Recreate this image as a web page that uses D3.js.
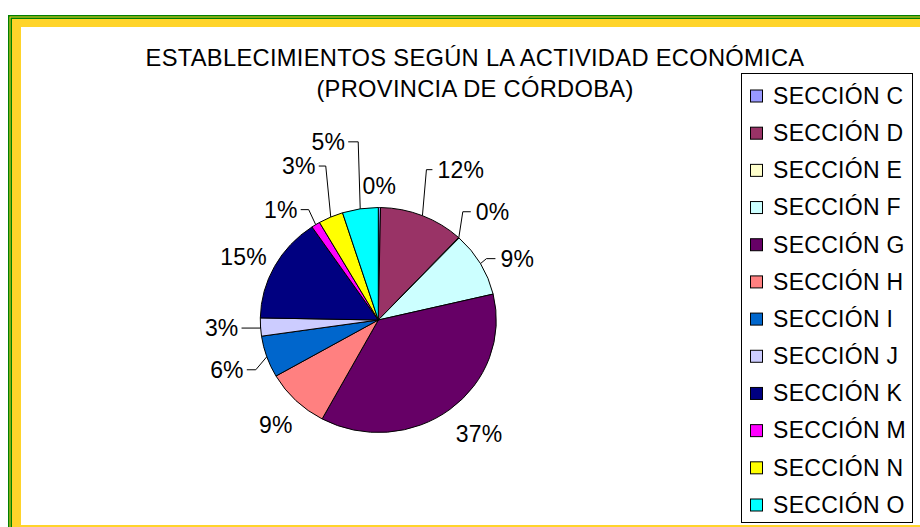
<!DOCTYPE html>
<html>
<head>
<meta charset="utf-8">
<script src="https://cdn.jsdelivr.net/npm/d3@7"></script>
<style>
    html, body { margin: 0; padding: 0; background: #fff; }
    svg { display: block; font-family: "Liberation Sans", Arial, sans-serif; }
</style>
</head>
<body>
<div class="chart"></div>
<script>
// ===============================
// Data
// ===============================

const categories = ["SECCIÓN C", "SECCIÓN D", "SECCIÓN E", "SECCIÓN F", "SECCIÓN G", "SECCIÓN H",
    "SECCIÓN I", "SECCIÓN J", "SECCIÓN K", "SECCIÓN M", "SECCIÓN N", "SECCIÓN O"];
const shares = [0.3, 11.6, 0.1, 9.3, 36.6, 8.8, 6.0, 2.6, 15.2, 1.2, 3.4, 4.9];
const colors = ["#9999FF", "#993366", "#FFFFCC", "#CCFFFF", "#660066", "#FF8080",
    "#0066CC", "#CCCCFF", "#000080", "#FF00FF", "#FFFF00", "#00FFFF"];
const titleLines = ["ESTABLECIMIENTOS SEGÚN LA ACTIVIDAD ECONÓMICA", "(PROVINCIA DE CÓRDOBA)"];

// label layout: offset from slice edge (no leader) or elbow + horizontal run (leader)
const labelLayout = [
    { off: [0, -22] },
    { elbow: [4, -46], run: 6 },
    { elbow: [4, -26], run: 8 },
    { elbow: [6, -5], run: 9 },
    { off: [29, 24] },
    { off: [-20, 24] },
    { elbow: [-11, 13], run: -9 },
    { elbow: [0, 1], run: -19 },
    { off: [-31, -10] },
    { elbow: [-7, -15], run: -8 },
    { elbow: [-5, -51], run: -7 },
    { elbow: [-2, -67], run: -10 }
];

const width = 920;
const height = 527;

const svg = d3.select(".chart")
    .append("svg")
    .attr("width", width)
    .attr("height", height);

// =========================
// Frame (green / yellow border)
// =========================

const frame = [
    { x: 8, y: 15, fill: "#008000" },
    { x: 9.5, y: 16.5, fill: "#FFD42A" },
    { x: 10.5, y: 17.5, fill: "#008000" },
    { x: 12, y: 19, fill: "#FFD42A" }
];
frame.forEach(f => {
    svg.append("rect")
        .attr("x", f.x).attr("y", f.y)
        .attr("width", 1000).attr("height", 600)
        .attr("fill", f.fill);
});
svg.append("rect")
    .attr("x", 21).attr("y", 27)
    .attr("width", 1000).attr("height", 525 - 27)
    .attr("fill", "#fff");

// =========================
// Title
// =========================

svg.selectAll(".title")
    .data(titleLines)
    .join("text")
    .attr("class", "title")
    .attr("x", 475)
    .attr("y", (d, i) => 65.5 + i * 31)
    .attr("text-anchor", "middle")
    .style("font-size", "23.7px")
    .style("letter-spacing", "0.3px")
    .attr("fill", "#000")
    .text(d => d);

// =========================
// Pie
// =========================

const cx = 378.3, cy = 320, rx = 118, ry = 112.5;

const pie = d3.pie().sort(null).value(d => d);
const arcs = pie(shares);
const arc = d3.arc().innerRadius(0).outerRadius(rx);

const pieG = svg.append("g")
    .attr("transform", `translate(${cx},${cy}) scale(1,${ry / rx})`);

pieG.selectAll("path")
    .data(arcs)
    .join("path")
    .attr("d", arc)
    .attr("fill", (d, i) => colors[i])
    .attr("stroke", "#000")
    .attr("stroke-width", 1)
    .attr("vector-effect", "non-scaling-stroke");

// =========================
// Labels and leader lines
// =========================

const total = d3.sum(shares);
const edge = a => [cx + rx * Math.sin(a), cy - ry * Math.cos(a)];

arcs.forEach((d, i) => {
    const mid = (d.startAngle + d.endAngle) / 2;
    const [ex, ey] = edge(mid);
    const lay = labelLayout[i];
    const txt = Math.round(d.value / total * 100) + "%";
    let lx, ly, anchor;

    if (lay.elbow) {
        const bx = ex + lay.elbow[0], by = ey + lay.elbow[1];
        const endX = bx + lay.run;
        svg.append("polyline")
            .attr("points", [[ex, ey], [bx, by], [endX, by]].map(p => p.join(",")).join(" "))
            .attr("fill", "none")
            .attr("stroke", "#000")
            .attr("stroke-width", 1);
        anchor = lay.run > 0 ? "start" : "end";
        lx = endX + (lay.run > 0 ? 5 : -3);
        ly = by;
    } else {
        anchor = "middle";
        lx = ex + lay.off[0];
        ly = ey + lay.off[1];
    }

    svg.append("text")
        .attr("x", lx)
        .attr("y", ly)
        .attr("dy", "0.36em")
        .attr("text-anchor", anchor)
        .style("font-size", "23px")
        .style("letter-spacing", "0.2px")
        .attr("fill", "#000")
        .text(txt);
});

// =========================
// Legend
// =========================

const legend = svg.append("g");

legend.append("rect")
    .attr("x", 741.5).attr("y", 73.5)
    .attr("width", 171).attr("height", 449)
    .attr("fill", "#fff")
    .attr("stroke", "#000");

const rowY = d3.scalePoint()
    .domain(categories)
    .range([95.5, 504.5]);

const items = legend.selectAll(".item")
    .data(categories)
    .join("g")
    .attr("class", "item")
    .attr("transform", d => `translate(0,${rowY(d)})`);

items.append("rect")
    .attr("x", 750.5).attr("y", -5.5)
    .attr("width", 12).attr("height", 12)
    .attr("fill", (d, i) => colors[i])
    .attr("stroke", "#000");

items.append("text")
    .attr("x", 773)
    .attr("dy", "0.36em")
    .style("font-size", "23px")
    .style("letter-spacing", "0.3px")
    .attr("fill", "#000")
    .text(d => d);
</script>
</body>
</html>
